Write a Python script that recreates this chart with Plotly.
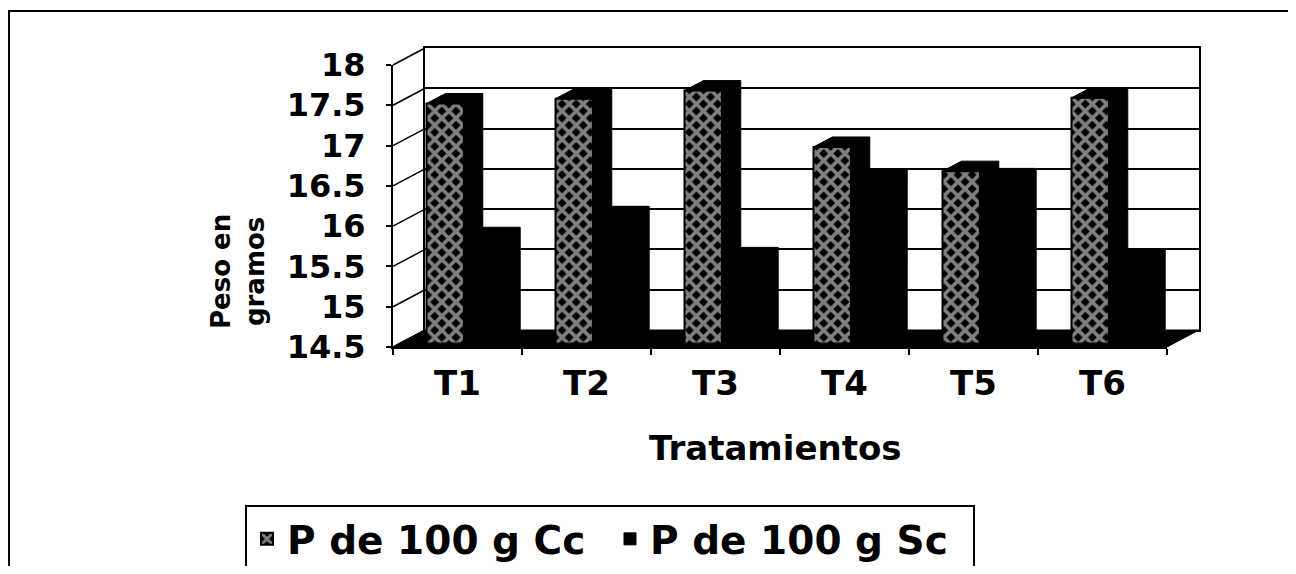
import plotly.graph_objects as go

# ---------------- data ----------------
categories = ["T1", "T2", "T3", "T4", "T5", "T6"]
cc_values = [17.48, 17.54, 17.64, 16.94, 16.64, 17.55]
sc_values = [15.82, 16.08, 15.57, 16.53, 16.55, 15.55]
series_names = ["P de 100 g Cc", "P de 100 g Sc"]
y_ticks = [14.5, 15, 15.5, 16, 16.5, 17, 17.5, 18]
y_title = "Peso en<br>gramos"
x_title = "Tratamientos"

# ---------------- geometry (pixels of the 1296x574 window) ----------------
OFF = 8                       # page body margin
W, H = 1296 - 2 * OFF, 574 - 2 * OFF
YMIN, YMAX = 14.5, 18.0
FX0, FX1, FYT, FYB = 393, 1167, 65, 347     # front plane of the 3D box
DEPTH = (32, -17)                            # full depth offset of the box
BAR_F = 0.2                                  # depth of bar front faces
BAR_D = 0.59                                 # bar depth (fraction of box depth)
BAR_W = 0.29                                 # bar width in category units
FONT = "DejaVu Sans"

n = len(categories)
xr = [-0.5, n - 0.5]


def px(x):
    return (x - OFF) / W


def py(y):
    return 1 - (y - OFF) / H


def dom(f):
    dx, dy = DEPTH[0] * f, DEPTH[1] * f
    return [px(FX0 + dx), px(FX1 + dx)], [py(FYB + dy), py(FYT + dy)]


def yf_px(v, f=0.0):
    return FYB - (v - YMIN) * (FYB - FYT) / (YMAX - YMIN) + DEPTH[1] * f


# bar depth in data units of the bar axes
ddx = DEPTH[0] * BAR_D / ((FX1 - FX0) / n)
ddy = -DEPTH[1] * BAR_D / ((FYB - FYT) / (YMAX - YMIN))


def depth_faces(values, offset):
    xs, ys = [], []
    for i, v in enumerate(values):
        x0 = i + offset
        x1 = x0 + BAR_W
        xs += [x0, x0 + ddx, x1 + ddx, x1 + ddx, x1, x1, x0, None]
        ys += [v, v + ddy, v + ddy, YMIN + ddy, YMIN, v, v, None]
    return xs, ys


idx = list(range(n))
fig = go.Figure()

# invisible anchors so the back wall (x/y) and the front axes (x2/y2) get drawn
for ax, ay in (("x", "y"), ("x2", "y2")):
    fig.add_trace(go.Scatter(
        x=idx, y=cc_values, mode="markers", marker=dict(opacity=0),
        showlegend=False, hoverinfo="skip", xaxis=ax, yaxis=ay,
    ))

fig.add_trace(go.Bar(
    x=idx, y=[v - YMIN for v in cc_values], base=YMIN, name=series_names[0],
    width=BAR_W, offset=-BAR_W, xaxis="x3", yaxis="y3",
    marker=dict(color="black", line=dict(color="black", width=2),
                pattern=dict(shape="x", bgcolor="black", fgcolor="white",
                             size=10, solidity=0.6)),
))
fig.add_trace(go.Bar(
    x=idx, y=[v - YMIN for v in sc_values], base=YMIN, name=series_names[1],
    width=BAR_W, offset=0, xaxis="x3", yaxis="y3",
    marker=dict(color="black", line=dict(color="black", width=1)),
))
for vals, off in ((cc_values, -BAR_W), (sc_values, 0)):
    xs, ys = depth_faces(vals, off)
    fig.add_trace(go.Scatter(
        x=xs, y=ys, mode="lines", fill="toself", fillcolor="black",
        line=dict(color="black", width=1), showlegend=False,
        hoverinfo="skip", xaxis="x3", yaxis="y3",
    ))

bx, by = dom(1.0)
fx, fy = dom(0.0)
cx, cy = dom(BAR_F)

shapes = []
# floor
shapes.append(dict(
    type="path", xref="paper", yref="paper", layer="below",
    path=(f"M{px(FX0)},{py(FYB)} L{px(FX1)},{py(FYB)} "
          f"L{px(FX1 + DEPTH[0])},{py(FYB + DEPTH[1])} "
          f"L{px(FX0 + DEPTH[0])},{py(FYB + DEPTH[1])} Z"),
    fillcolor="black", line=dict(color="black", width=1),
))
# side wall gridlines
for v in y_ticks:
    shapes.append(dict(
        type="line", xref="paper", yref="paper", layer="above",
        x0=px(FX0), y0=py(yf_px(v)),
        x1=px(FX0 + DEPTH[0]), y1=py(yf_px(v, 1.0)),
        line=dict(color="black", width=1.5),
    ))
# outer border
shapes.append(dict(
    type="rect", xref="paper", yref="paper", layer="above",
    x0=px(9), y0=py(11), x1=px(1330), y1=py(620),
    line=dict(color="black", width=2), fillcolor="rgba(0,0,0,0)",
))

fig.update_layout(
    width=W, height=H,
    margin=dict(l=0, r=0, t=0, b=0, autoexpand=False),
    paper_bgcolor="white", plot_bgcolor="rgba(0,0,0,0)",
    font=dict(family=FONT, color="black"),
    barmode="overlay",
    showlegend=True,
    xaxis=dict(domain=bx, range=xr, anchor="y", showgrid=False, zeroline=False,
               showline=True, mirror=True, linecolor="black", linewidth=2,
               showticklabels=False, ticks="", fixedrange=True),
    yaxis=dict(domain=by, range=[YMIN, YMAX], anchor="x", tickmode="array",
               tickvals=y_ticks, showgrid=True, gridcolor="black", gridwidth=1.5,
               zeroline=False, showline=True, mirror=True, linecolor="black",
               linewidth=2, showticklabels=False, ticks="", fixedrange=True),
    xaxis2=dict(domain=fx, range=xr, anchor="y2", showgrid=False, zeroline=False,
                showline=True, linecolor="black", linewidth=2,
                tickmode="array", tickvals=idx, ticktext=categories,
                ticks="outside", ticklen=0, ticklabelstandoff=5,
                minor=dict(tickmode="array", tickvals=[i - 0.5 for i in range(n + 1)],
                           ticks="outside", ticklen=6, tickcolor="black", tickwidth=2),
                tickfont=dict(family=FONT, size=34, weight="bold", color="black"),
                fixedrange=True),
    yaxis2=dict(domain=fy, range=[YMIN, YMAX], anchor="x2", tickmode="array",
                tickvals=y_ticks, showgrid=False, zeroline=False,
                showline=True, linecolor="black", linewidth=2,
                ticks="outside", ticklen=5, tickcolor="black", tickwidth=1.5,
                ticklabelstandoff=14,
                tickfont=dict(family=FONT, size=32, weight="bold", color="black"),
                fixedrange=True),
    xaxis3=dict(domain=cx, range=xr, anchor="y3", visible=False, fixedrange=True),
    yaxis3=dict(domain=cy, range=[YMIN, YMAX], anchor="x3", visible=False, fixedrange=True),
    legend=dict(orientation="h", x=px(245), y=py(505), xanchor="left", yanchor="top",
                bgcolor="white", bordercolor="black", borderwidth=2,
                entrywidth=318,
                font=dict(family=FONT, size=39, weight="bold", color="black"),
                traceorder="normal"),
    shapes=shapes,
    annotations=[
        dict(text=x_title, xref="paper", yref="paper", x=px(775), y=py(448),
             showarrow=False, xanchor="center", yanchor="middle",
             font=dict(family=FONT, size=34, weight="bold", color="black")),
        dict(text=y_title, xref="paper", yref="paper", x=px(238), y=py(272),
             showarrow=False, xanchor="center", yanchor="middle", textangle=-90,
             font=dict(family=FONT, size=26, weight="bold", color="black")),
    ],
)

fig.write_html("out.html")
